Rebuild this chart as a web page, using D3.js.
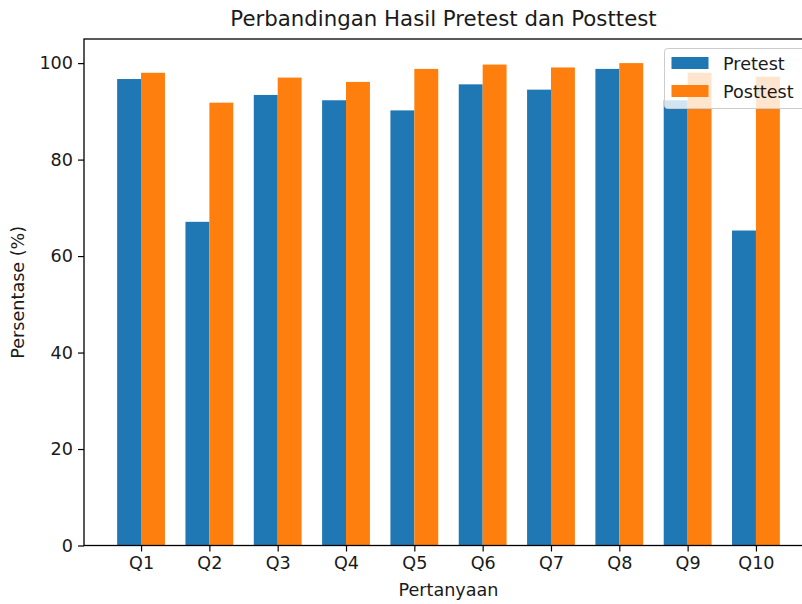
<!doctype html>
<html lang="en">
<head>
<meta charset="utf-8">
<title>Perbandingan Hasil Pretest dan Posttest</title>
<style>
 body{margin:0;background:#fff;}
 svg{display:block;font-family:"DejaVu Sans",sans-serif;}
</style>
<script src="https://cdnjs.cloudflare.com/ajax/libs/d3/7.8.5/d3.min.js"></script>
</head>
<body>
<svg width="802" height="604"></svg>
<script>
const categories=["Q1","Q2","Q3","Q4","Q5","Q6","Q7","Q8","Q9","Q10"];
const pretest=[96.7,67.1,93.4,92.3,90.2,95.6,94.5,98.8,92.3,65.3];
const posttest=[98.0,91.8,97.0,96.1,98.8,99.7,99.1,100,98.0,97.2];
const yTicks=[0,20,40,60,80,100];
const seriesNames=["Pretest","Posttest"];
const colors=["#1f77b4","#ff7f0e"];

const margin={top:39,left:84,bottom:545.5,right:813};
const barW=0.35;
const fs="17.6px";

const svg=d3.select("svg");

const xScale=d3.scaleLinear()
 .domain([-0.835,categories.length-1+0.835])
 .range([margin.left,margin.right]);
const yScale=d3.scaleLinear()
 .domain([0,105])
 .range([margin.bottom,margin.top]);

// bars
const series=[pretest,posttest];
series.forEach((vals,s)=>{
 const off=s===0?-barW/2:barW/2;
 svg.append("g")
 .selectAll("rect")
 .data(vals)
 .enter()
 .append("rect")
 .attr("x",(d,i)=>xScale(i+off-barW/2))
 .attr("y",d=>yScale(d))
 .attr("width",(d,i)=>xScale(i+off+barW/2)-xScale(i+off-barW/2))
 .attr("height",d=>yScale(0)-yScale(d))
 .attr("fill",colors[s]);
});

// axes
const xAxis=d3.axisBottom(xScale)
 .tickValues(d3.range(categories.length))
 .tickFormat(i=>categories[i])
 .tickSize(6).tickPadding(5);
const yAxis=d3.axisLeft(yScale)
 .tickValues(yTicks)
 .tickSize(6).tickPadding(5);

const gx=svg.append("g")
 .attr("transform",`translate(0,${margin.bottom})`)
 .call(xAxis);
const gy=svg.append("g")
 .attr("transform",`translate(${margin.left},0)`)
 .call(yAxis);

[gx,gy].forEach(g=>{
 g.select(".domain").remove();
 g.selectAll("line").attr("stroke","#000").attr("stroke-width",1.2);
 g.selectAll("text")
 .style("font-family","DejaVu Sans, sans-serif")
 .style("font-size",fs)
 .attr("fill","#1a1a1a");
});

// frame
svg.append("rect")
 .attr("x",margin.left)
 .attr("y",margin.top)
 .attr("width",margin.right-margin.left)
 .attr("height",margin.bottom-margin.top)
 .attr("fill","none")
 .attr("stroke","#000")
 .attr("stroke-width",1.3);

// title and axis labels
svg.append("text")
 .text("Perbandingan Hasil Pretest dan Posttest")
 .attr("x",(margin.left+margin.right)/2-5)
 .attr("y",26)
 .attr("text-anchor","middle")
 .style("font-size","21.3px")
 .attr("fill","#1a1a1a");

svg.append("text")
 .text("Pertanyaan")
 .attr("x",(margin.left+margin.right)/2)
 .attr("y",596)
 .attr("text-anchor","middle")
 .style("font-size",fs)
 .attr("fill","#1a1a1a");

svg.append("text")
 .text("Persentase (%)")
 .attr("transform",`translate(24,${(margin.top+margin.bottom)/2}) rotate(-90)`)
 .attr("text-anchor","middle")
 .style("font-size",fs)
 .attr("fill","#1a1a1a");

// legend
const lg=svg.append("g").attr("class","legend");
lg.append("rect")
 .attr("x",664.5)
 .attr("y",48.5)
 .attr("width",150)
 .attr("height",60)
 .attr("rx",3)
 .attr("fill","#fff")
 .attr("fill-opacity",0.8)
 .attr("stroke","#ccc")
 .attr("stroke-width",1);

seriesNames.forEach((name,i)=>{
 const cy=63+i*28;
 lg.append("rect")
 .attr("x",671.5)
 .attr("y",cy-6)
 .attr("width",37)
 .attr("height",12)
 .attr("fill",colors[i]);
 lg.append("text")
 .text(name)
 .attr("x",723)
 .attr("y",cy+6.5)
 .style("font-size",fs)
 .attr("fill","#1a1a1a");
});
</script>
</body>
</html>
